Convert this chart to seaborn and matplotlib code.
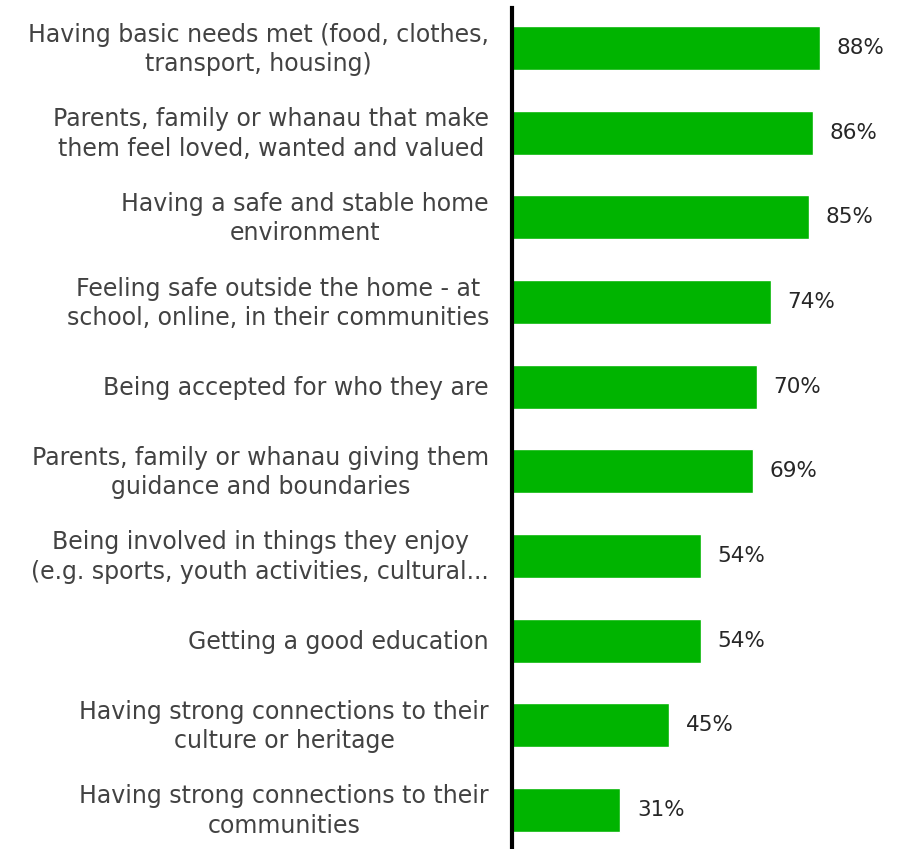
import matplotlib
matplotlib.use("Agg")
import matplotlib.pyplot as plt
import matplotlib.transforms as mtransforms
import seaborn as sns
import pandas as pd

categories = [
    "Having basic needs met (food, clothes,\ntransport, housing)",
    "Parents, family or whanau that make\nthem feel loved, wanted and valued",
    "Having a safe and stable home\nenvironment",
    "Feeling safe outside the home - at\nschool, online, in their communities",
    "Being accepted for who they are",
    "Parents, family or whanau giving them\nguidance and boundaries",
    "Being involved in things they enjoy\n(e.g. sports, youth activities, cultural...",
    "Getting a good education",
    "Having strong connections to their\nculture or heritage",
    "Having strong connections to their\ncommunities",
]
values = [88, 86, 85, 74, 70, 69, 54, 54, 45, 31]

df = pd.DataFrame({"category": categories, "value": values})

sns.set_theme(style="white")
plt.rcParams["font.family"] = ["DejaVu Sans"]

fig = plt.figure(figsize=(9.08, 8.49), dpi=100)
ax = fig.add_axes([512 / 908, 0, 1 - 512 / 908, 1 - 8 / 849])

sns.barplot(data=df, y="category", x="value", orient="h", color="#00B400",
            width=0.52, saturation=1, ax=ax)

ax.set_xlim(0, 113.2)
ax.set_ylim(9.463, -0.475)
ax.set_xlabel("")
ax.set_ylabel("")
ax.set_xticks([])
ax.set_yticks(range(len(categories)))
ax.set_yticklabels([])

for s in ["top", "right", "bottom"]:
    ax.spines[s].set_visible(False)
ax.spines["left"].set_color("black")
ax.spines["left"].set_linewidth(3)
ax.tick_params(axis="y", length=0)

# category labels: text block (cap top to last baseline) centred on each bar;
# va="baseline" pins the last line's baseline
cap_px = 17.0
line_px = 28.5
ytrans = ax.get_yaxis_transform()
for i, label in enumerate(categories):
    n = label.count("\n") + 1
    last_baseline_down = cap_px / 2 + (n - 1) * line_px / 2
    tr = mtransforms.offset_copy(ytrans, fig=fig, x=-23, y=-last_baseline_down,
                                 units="dots")
    ax.text(0, i, label, transform=tr, ha="right", va="baseline",
            multialignment="center", fontsize=17, color="#424242",
            linespacing=1.28, clip_on=False)

for i, v in enumerate(values):
    ax.text(v + 4.7, i, f"{v}%", va="center", ha="left",
            fontsize=15.5, color="#262626")

fig.savefig("out.png", dpi=100)
